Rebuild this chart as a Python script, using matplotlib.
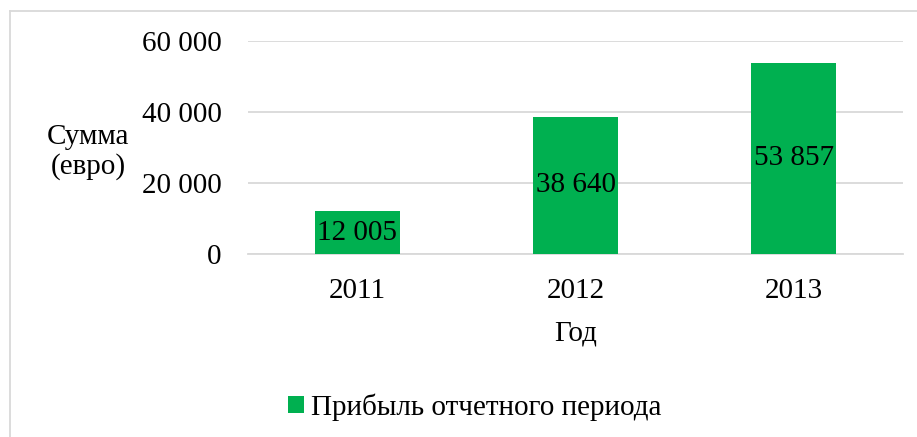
import matplotlib.pyplot as plt
from matplotlib.lines import Line2D

# Data
years = ['2011', '2012', '2013']
profit = [12005, 38640, 53857]
series_name = 'Прибыль отчетного периода'
green = '#00B050'


def fmt(v):
    return f'{int(v):,}'.replace(',', ' ')


plt.rcParams['font.family'] = ['Liberation Serif', 'DejaVu Serif']

W, H = 917, 437
fig = plt.figure(figsize=(W / 100, H / 100), dpi=100)
ax = fig.add_axes([248 / W, 1 - 254 / H, (903 - 248) / W, (254 - 41) / H])

x = range(len(years))
bars = ax.bar(x, profit, width=0.39, color=green, label=series_name, zorder=3)
for b, v in zip(bars, profit):
    ax.text(b.get_x() + b.get_width() / 2, v / 2, fmt(v),
            ha='center', va='center', fontsize=21, zorder=4)

ax.set_xlim(-0.5, 2.5)
ax.set_ylim(0, 60000)
yticks = [0, 20000, 40000, 60000]
ax.set_yticks(yticks)
ax.set_yticklabels([fmt(t) for t in yticks])
ax.set_xticks(list(x))
ax.set_xticklabels(years)
ax.tick_params(axis='both', length=0, labelsize=21)
ax.tick_params(axis='y', pad=19)
ax.tick_params(axis='x', pad=17)
ax.grid(axis='y', color='#d9d9d9', linewidth=1.3, zorder=0)
for s in ['top', 'right', 'left']:
    ax.spines[s].set_visible(False)
ax.spines['bottom'].set_color('#d9d9d9')
ax.spines['bottom'].set_linewidth(1.3)

ax.set_xlabel('Год', fontsize=21, labelpad=12)
fig.text(88 / W, 1 - 152 / H, 'Сумма\n(евро)', ha='center', va='center',
         fontsize=21, linespacing=1.15)

fig.legend(handles=[bars], labels=[series_name], loc='center',
           bbox_to_anchor=(475 / W, 1 - 407 / H), frameon=False,
           fontsize=21, handlelength=0.55, handleheight=0.55, handletextpad=0.25)

# outer chart border: only top and left edges are visible
fig.add_artist(Line2D([9.5 / W, 1], [1 - 10.5 / H, 1 - 10.5 / H],
                      transform=fig.transFigure, color='#d9d9d9', linewidth=1.3))
fig.add_artist(Line2D([9.5 / W, 9.5 / W], [0, 1 - 10.5 / H],
                      transform=fig.transFigure, color='#d9d9d9', linewidth=1.3))

fig.savefig('out.png', dpi=100)
